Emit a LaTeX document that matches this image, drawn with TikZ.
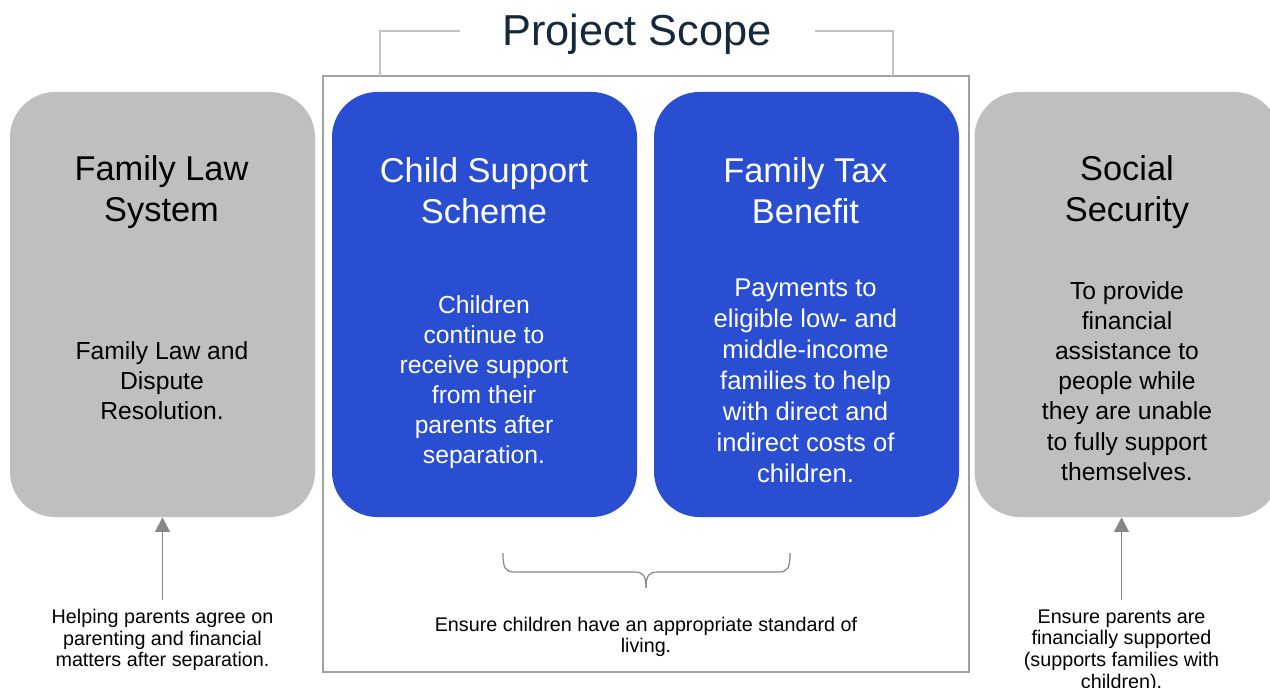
\documentclass[tikz,border=0pt]{standalone}
\usepackage{fontspec}
\setmainfont{Liberation Sans}
\usetikzlibrary{arrows.meta}
\definecolor{boxgray}{RGB}{191,191,191}
\definecolor{boxblue}{RGB}{42,78,210}
\definecolor{titlenavy}{RGB}{20,40,62}
\definecolor{arrowgray}{RGB}{135,135,135}
\definecolor{framegray}{RGB}{160,160,160}
\definecolor{bracketgray}{RGB}{195,195,195}
\tikzset{
  panel/.style={rectangle, rounded corners=34pt, minimum width=228.75pt, minimum height=318.75pt, inner sep=0pt},
  graypanel/.style={panel, fill=boxgray},
  bluepanel/.style={panel, fill=boxblue},
  paneltitle/.style={align=center, font=\fontsize{25.8}{30.8}\selectfont},
  panelbody/.style={align=center, font=\fontsize{18.5}{22.6}\selectfont},
  smalltext/.style={align=center, font=\fontsize{14.8}{16.2}\selectfont, inner sep=7pt},
  uparrow/.style={draw=arrowgray, line width=1.4pt, -{Triangle[length=11pt,width=11pt]}},
  bracketline/.style={draw=bracketgray, line width=1.1pt},
  braceline/.style={draw=arrowgray, line width=0.9pt}
}
\begin{document}
\begin{tikzpicture}[x=0.75pt,y=-0.75pt]
\useasboundingbox (0,0) rectangle (1270,688);
\clip (0,0) rectangle (1270,688);
\fill[white] (0,0) rectangle (1270,688);

% scope frame and title
\node[draw=framegray, line width=1.1pt, fill=white, minimum width=484.5pt, minimum height=447pt, inner sep=0pt] (scopebox) at (646,374) {};
\node[text=titlenavy, font=\fontsize{32.5}{38}\selectfont] (ptitle) at (637,34) {Project Scope};
\draw[bracketline] (380,76) -- (380,31) -- (460,31);
\draw[bracketline] (815,31) -- (893,31) -- (893,76);

% panels
\node[graypanel] (famlaw) at (162.5,304.5) {};
\node[bluepanel] (csscheme) at (484.5,304.5) {};
\node[bluepanel] (ftb) at (806.5,304.5) {};
\node[graypanel] (socsec) at (1127,304.5) {};

% panel titles
\node[paneltitle] (famlawT) at (161.5,192) {Family Law\\System};
\node[paneltitle, text=white] (csschemeT) at (484,191) {Child Support\\Scheme};
\node[paneltitle, text=white] (ftbT) at (805.5,191) {Family Tax\\Benefit};
\node[paneltitle] (socsecT) at (1127,192) {Social\\Security};

% panel bodies
\node[panelbody] (famlawB) at (162,381) {Family Law and\\Dispute\\Resolution.};
\node[panelbody, text=white] (csschemeB) at (484,382) {Children\\continue to\\receive support\\from their\\parents after\\separation.};
\node[panelbody, text=white, font=\fontsize{19.2}{23.3}\selectfont] (ftbB) at (805.5,381) {Payments to\\eligible low- and\\middle-income\\families to help\\with direct and\\indirect costs of\\children.};
\node[panelbody] (socsecB) at (1127,381) {To provide\\financial\\assistance to\\people while\\they are unable\\to fully support\\themselves.};

% bottom texts
\node[smalltext] (helptext) at (162.5,640) {Helping parents agree on\\parenting and financial\\matters after separation.};
\node[smalltext] (enstext) at (1121.5,651) {Ensure parents are\\financially supported\\(supports families with\\children).};
\node[smalltext] (stdtext) at (646,637) {Ensure children have an appropriate standard of\\living.};

% arrows
\draw[uparrow] (helptext.north) -- (helptext.north |- famlaw.south);
\draw[uparrow] (enstext.north |- helptext.north) -- (enstext.north |- socsec.south);

% brace
\draw[braceline] (503,553) .. controls (503,568) and (505,572) .. (515,572) -- (634,572) .. controls (643,572) and (646,575) .. (646,588);
\draw[braceline] (790,553) .. controls (790,568) and (788,572) .. (778,572) -- (658,572) .. controls (649,572) and (646,575) .. (646,588);
\end{tikzpicture}
\end{document}
